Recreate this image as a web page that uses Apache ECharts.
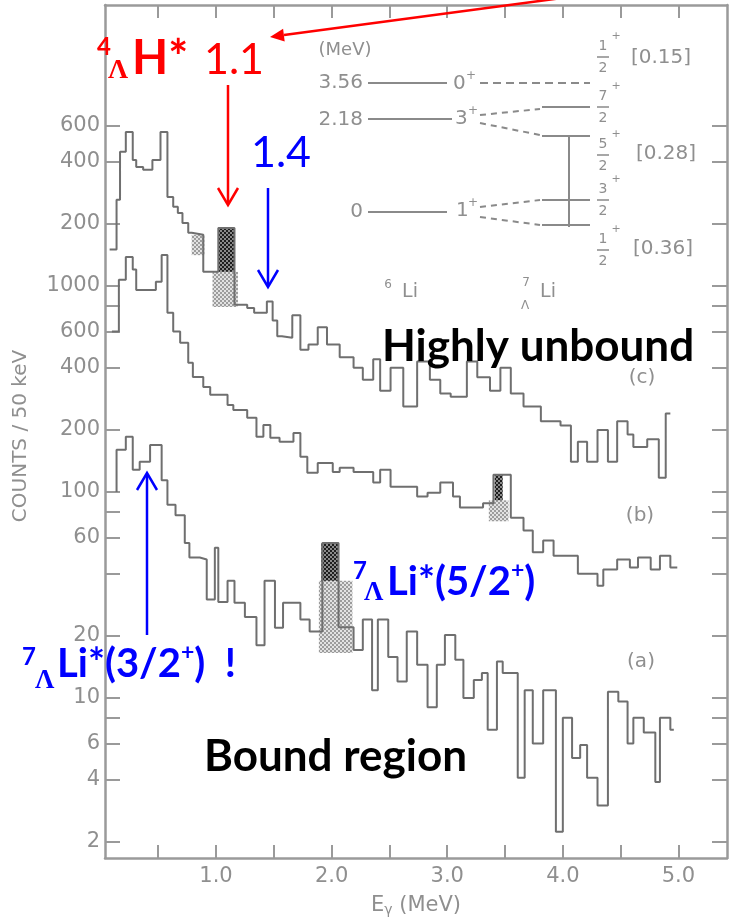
<!DOCTYPE html>
<html><head><meta charset="utf-8">
<script src="https://cdn.jsdelivr.net/npm/echarts@6/dist/echarts.min.js"></script>
<style>html,body{margin:0;padding:0;background:#fff}#c{width:731px;height:924px}</style>
</head><body><div id="c"></div>
<script>
// ---- data: [energy of left bin edge (MeV), counts / 50 keV] ----
const spectrumA = [[0.14,100],[0.14,160],[0.22,185],[0.28,128],[0.34,140],[0.43,169],[0.53,114],[0.58,86.5],[0.65,77],[0.73,56.5],[0.77,48],[0.86,47],[0.92,30],[0.99,53.5],[1.02,29.2],[1.10,37],[1.16,29],[1.25,24.7],[1.35,18],[1.42,37],[1.51,21.9],[1.58,29],[1.73,24],[1.81,21],[1.92,56.5],[2.06,22],[2.19,17.1],[2.27,24],[2.35,10.9],[2.40,24],[2.49,15.8],[2.57,12],[2.65,21],[2.74,14.5],[2.83,9],[2.91,14.5],[2.98,20.2],[3.07,15.3],[3.14,10],[3.23,12.2],[3.30,13.2],[3.35,7],[3.43,15],[3.48,13.2],[3.61,4.1],[3.67,10.9],[3.74,6],[3.83,10.9],[3.94,2.24],[4.00,8],[4.08,5.1],[4.15,5.9],[4.21,4.1],[4.30,3.0],[4.39,10.7],[4.48,9.6],[4.56,6],[4.61,8],[4.70,6.8],[4.80,3.9],[4.84,8],[4.93,7],[4.96,7]];
const spectrumB = [[0.10,600],[0.16,1070],[0.22,1380],[0.28,1200],[0.31,956],[0.48,1046],[0.53,1414],[0.58,740],[0.63,600],[0.69,529],[0.76,423],[0.80,361],[0.89,323],[0.95,296],[1.10,264],[1.15,250],[1.27,229],[1.35,185],[1.41,211],[1.47,183],[1.55,175],[1.67,193],[1.73,148],[1.79,124],[1.88,138],[2.01,125],[2.07,131],[2.19,125],[2.36,111],[2.42,128],[2.51,106],[2.74,95],[2.83,99],[2.94,111],[3.05,95],[3.11,84],[3.31,88],[3.40,121],[3.55,75],[3.66,65],[3.74,51],[3.83,58],[3.92,49],[4.13,40],[4.30,35],[4.35,42],[4.47,47],[4.58,43],[4.65,48],[4.76,42],[4.84,49],[4.93,43],[4.99,43]];
// spectrum (c) in the counts of its own (upper) scale; drawn one decade higher
const spectrumC = [[0.08,150],[0.14,262],[0.17,448],[0.22,559],[0.28,409],[0.31,378],[0.37,366],[0.45,409],[0.52,559],[0.58,270],[0.63,242],[0.67,226],[0.71,202],[0.76,181],[0.79,177],[0.89,117],[1.02,191],[1.16,81],[1.27,78],[1.33,74],[1.44,84],[1.49,68],[1.53,57],[1.57,56],[1.66,72],[1.73,49],[1.80,52],[1.88,63],[1.96,52],[2.07,45],[2.19,40],[2.27,35],[2.36,44],[2.42,31],[2.51,40],[2.62,26],[2.74,43],[2.85,35],[2.94,30],[3.03,29],[3.17,43],[3.26,36],[3.37,31],[3.46,40],[3.55,30],[3.66,26],[3.81,22],[3.98,21],[4.07,14],[4.13,17.5],[4.21,14],[4.30,20],[4.39,14],[4.47,22],[4.56,19],[4.61,16.5],[4.73,18],[4.83,11.7],[4.89,24],[4.93,24]];
const offsetC = 10;
// hatched peak regions: [E from, E to, counts low, counts high]
const hatchDenseA = [[1.91,2.06,37,56.5]];
const hatchLightA = [[1.89,2.18,16.5,37]];
const hatchDenseB = [[3.41,3.48,91,121]];
const hatchLightB = [[3.36,3.53,72,91]];
const hatchDenseC = [[1.02,1.16,117,191]];
const hatchLightC = [[0.97,1.19,79,117],[0.79,0.90,141,177]];
// axes
const yTickLabels = [2,4,6,10,20,60,100,200,400,600,1000,2000,4000,6000];
const yMinorTicks = [8,40,80,800];
const xTickLabels = [1,2,3,4,5];
const xTicks = [0.5,1,1.5,2,2.5,3,3.5,4,4.5,5];

const AX = '#9a9a9a', TX = '#8f8f8f', TR = '#6f6f6f';
const chart = echarts.init(document.getElementById('c'), null, {renderer:'canvas'});

function makePattern(dark){
  const cv = document.createElement('canvas'); cv.width = 4; cv.height = 4;
  const g = cv.getContext('2d');
  g.fillStyle = dark ? '#8a8a8a' : '#e2e2e2'; g.fillRect(0,0,4,4);
  g.fillStyle = dark ? '#1e1e1e' : '#9c9c9c';
  g.fillRect(0,0,2,2); g.fillRect(2,2,2,2);
  return {image: cv, repeat: 'repeat'};
}
const PD = makePattern(true), PL = makePattern(false);
function hatchSeries(data, off, pattern){
  return {type:'custom', silent:true, z:2, clip:true, animation:false,
    data: data.map(d => [d[0], d[1], d[2]*off, d[3]*off]),
    encode:{x:[0,1], y:[2,3]},
    renderItem(params, api){
      const p0 = api.coord([api.value(0), api.value(3)]);
      const p1 = api.coord([api.value(1), api.value(2)]);
      return {type:'rect', shape:{x:p0[0], y:p0[1], width:p1[0]-p0[0], height:p1[1]-p0[1]}, style:{fill:pattern}};
    }};
}
function lineSeries(data){
  return {type:'line', step:'end', data, symbol:'none', showSymbol:false, animation:false, z:3,
    lineStyle:{color:TR, width:2}};
}

const G = [];
function T(x, y, text, o){
  const st = Object.assign({text, x:0, y:0, fill:TX, fontFamily:'DejaVu Sans', fontSize:20, fontWeight:'normal',
    align:'left', verticalAlign:'middle', textAlign:'left', textVerticalAlign:'middle'}, o||{});
  if (o && o.align) st.textAlign = o.align;
  G.push({type:'text', x, y, z:50, silent:true, style:st, rotation:(o&&o.rot)||0});
}
function L(x1,y1,x2,y2,color,w,dash){
  G.push({type:'line', z:50, silent:true, shape:{x1,y1,x2,y2}, style:{stroke:color, lineWidth:w, lineDash:dash||null}});
}
function PL2(points,color,w){
  G.push({type:'polyline', z:50, silent:true, shape:{points}, style:{stroke:color, lineWidth:w, fill:null}});
}
const RED = '#ff0000', BLUE = '#0000ff';
// y axis title
T(21, 436, 'COUNTS / 50 keV', {align:'center', rot:Math.PI/2, fontSize:20});
// red 4ΛH* 1.1
T(97, 47, '4', {fill:RED, fontFamily:'Lato', fontWeight:'bold', fontSize:24});
T(108, 71, 'Λ', {fill:RED, fontFamily:'Liberation Serif', fontWeight:'bold', fontSize:28});
T(132, 59, 'H*', {fill:RED, fontFamily:'Lato', fontWeight:'bold', fontSize:47});
T(204, 60, '1.1', {fill:RED, fontFamily:'Lato', fontSize:43});
T(251, 153, '1.4', {fill:BLUE, fontFamily:'Lato', fontSize:43});
T(382, 347, 'Highly unbound', {fill:'#000', fontFamily:'Lato', fontWeight:'bold', fontSize:44});
T(204, 757, 'Bound region', {fill:'#000', fontFamily:'Lato', fontWeight:'bold', fontSize:44});
const richMain = {m:{fontFamily:'Lato', fontWeight:'bold', fontSize:40, fill:BLUE, lineHeight:46, verticalAlign:'middle'},
                  p:{fontFamily:'Lato', fontWeight:'bold', fontSize:23, fill:BLUE, lineHeight:46, verticalAlign:'top'}};
T(353, 571, '7', {fill:BLUE, fontFamily:'Lato', fontWeight:'bold', fontSize:24});
T(364, 593, 'Λ', {fill:BLUE, fontFamily:'Liberation Serif', fontWeight:'bold', fontSize:27});
T(387, 582, '{m|Li*(5/2}{p|+}{m|)}', {rich:richMain});
T(22, 657, '7', {fill:BLUE, fontFamily:'Lato', fontWeight:'bold', fontSize:24});
T(35, 681, 'Λ', {fill:BLUE, fontFamily:'Liberation Serif', fontWeight:'bold', fontSize:27});
T(57, 664, '{m|Li*(3/2}{p|+}{m|)  !}', {rich:richMain});
// arrows
L(562,-2,284,35,RED,2.5);
G.push({type:'polygon', z:50, silent:true, shape:{points:[[270,37],[284.7,41.5],[283.1,28.8]]}, style:{fill:RED}});
L(228,85,228,204,RED,2.5); PL2([[218,188],[228,205],[238,188]],RED,2.5);
L(268,188,268,286,BLUE,2.5); PL2([[258,270],[268,287],[278,270]],BLUE,2.5);
L(147,635,147,474,BLUE,2.5); PL2([[137,490],[147,473],[157,490]],BLUE,2.5);
// scanned labels
T(642, 378, '(c)', {align:'center'});
T(640, 516, '(b)', {align:'center'});
T(641, 662, '(a)', {align:'center'});
T(388, 285, '6', {align:'center', fontSize:12});
T(410, 292, 'Li', {align:'center', fontSize:19});
T(526, 283, '7', {align:'center', fontSize:12});
T(525, 306, 'Λ', {align:'center', fontSize:12});
T(548, 292, 'Li', {align:'center', fontSize:19});
// level scheme inset
const IC = '#8a8a8a';
T(345, 50, '(MeV)', {align:'center', fontSize:18});
T(363, 83, '3.56', {align:'right', fontSize:20});
T(363, 120, '2.18', {align:'right', fontSize:20});
T(363, 212, '0', {align:'right', fontSize:20});
L(368,83,447,83,IC,2); L(368,119,452,119,IC,2); L(368,212,447,212,IC,2);
T(453, 84, '0', {fontSize:20}); T(466, 76, '+', {fontSize:12});
T(455, 119, '3', {fontSize:20}); T(468, 111, '+', {fontSize:12});
T(456, 211, '1', {fontSize:20}); T(468, 203, '+', {fontSize:12});
L(480,83,590,83,IC,2,[8,5]);
L(480,115,540,109,IC,2,[6,5]); L(542,107,590,107,IC,2);
L(480,123,540,135,IC,2,[6,5]); L(542,136,590,136,IC,2);
L(480,207,540,200,IC,2,[6,5]); L(542,200,590,200,IC,2);
L(480,217,540,225,IC,2,[6,5]); L(542,225,590,225,IC,2);
L(569,136,569,227,IC,2);
const fracNum = ['1','7','5','3','1'];
const fracBarY = [57,107,155,200,250];
fracNum.forEach((n,i) => {
  const by = fracBarY[i];
  T(603, by-11, n, {align:'center', fontSize:14});
  L(597, by, 609, by, IC, 1.5);
  T(603, by+11, '2', {align:'center', fontSize:14});
  T(616, by-21, '+', {align:'center', fontSize:11});
});
T(661, 58, '[0.15]', {align:'center', fontSize:20});
T(666, 154, '[0.28]', {align:'center', fontSize:20});
T(663, 249, '[0.36]', {align:'center', fontSize:20});

const axisLine = {show:true, onZero:false, lineStyle:{color:AX, width:2.5}};
const option = {
  animation:false,
  backgroundColor:'#fff',
  grid:{left:105, right:4, top:5, bottom:66, containLabel:false, outerBoundsMode:'none'},
  xAxis:[
    {type:'value', min:0.04, max:5.42, position:'bottom', axisLine,
     axisTick:{show:true, inside:true, length:13, customValues:xTicks, lineStyle:{color:AX, width:2}},
     axisLabel:{customValues:xTickLabels, formatter:v => Number(v).toFixed(1), color:TX, fontSize:21, fontFamily:'DejaVu Sans', margin:8},
     splitLine:{show:false},
     name:'E{s|γ} (MeV)', nameLocation:'middle', nameGap:37,
     nameTextStyle:{color:TX, fontSize:21, fontFamily:'DejaVu Sans', rich:{s:{fontSize:14, color:TX, fontFamily:'DejaVu Sans', verticalAlign:'bottom', padding:[8,0,0,0]}}}},
    {type:'value', min:0.04, max:5.42, position:'top', axisLine,
     axisTick:{show:true, inside:true, length:13, customValues:xTicks, lineStyle:{color:AX, width:2}},
     axisLabel:{show:false}, splitLine:{show:false}}
  ],
  yAxis:[
    {type:'log', logBase:10, min:1.67, max:23100, position:'left', axisLine,
     axisTick:{show:true, inside:true, length:15, customValues:yTickLabels.concat(yMinorTicks), lineStyle:{color:AX, width:2}},
     axisLabel:{customValues:yTickLabels, formatter:v => { const r = Math.round(v); return String(r >= 2000 ? r/offsetC : r); },
       color:TX, fontSize:21, fontFamily:'DejaVu Sans', margin:5},
     splitLine:{show:false}, minorTick:{show:false}},
    {type:'log', logBase:10, min:1.67, max:23100, position:'right', axisLine,
     axisTick:{show:true, inside:true, length:15, customValues:yTickLabels.concat(yMinorTicks), lineStyle:{color:AX, width:2}},
     axisLabel:{show:false}, splitLine:{show:false}}
  ],
  series:[
    hatchSeries(hatchLightC, offsetC, PL), hatchSeries(hatchDenseC, offsetC, PD),
    hatchSeries(hatchLightB, 1, PL), hatchSeries(hatchDenseB, 1, PD),
    hatchSeries(hatchLightA, 1, PL), hatchSeries(hatchDenseA, 1, PD),
    lineSeries(spectrumC.map(d => [d[0], d[1]*offsetC])),
    lineSeries(spectrumB),
    lineSeries(spectrumA)
  ],
  graphic:{elements:G}
};
chart.setOption(option);
</script></body></html>
